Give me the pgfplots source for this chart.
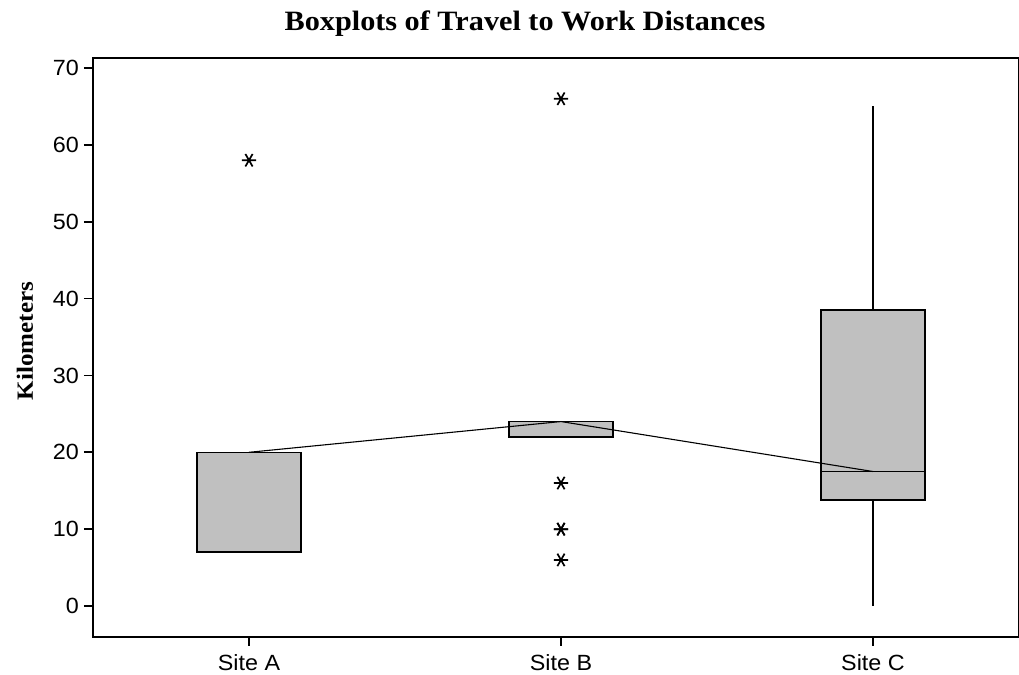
\documentclass[border=0pt]{standalone}
\usepackage{fontspec}
\setmainfont{Liberation Sans}
\newfontfamily\tickfont[FakeStretch=1.06]{Liberation Sans}
\newfontfamily\timesfont[FakeStretch=1.08]{Liberation Serif}
\usepackage{pgfplots}
\pgfplotsset{compat=1.18}
\usepgfplotslibrary{statistics}
\definecolor{boxgray}{RGB}{192,192,192}
\begin{document}
\begin{tikzpicture}
\begin{axis}[
  at={(46.5pt,19pt)}, anchor=south west,
  scale only axis, width=463pt, height=289.5pt,
  xmin=-0.5, xmax=2.468, ymin=-4.03, ymax=71.3,
  xtick={0,1,2}, xticklabels={Site A,Site B,Site C},
  ytick={0,10,...,70},
  tick align=outside, tick pos=left,
  major tick length=4.5pt,
  axis line style={line width=0.8pt},
  every tick/.style={black, line width=0.8pt},
  tick label style={font=\tickfont\fontsize{11}{13}\selectfont},
  yticklabel style={xshift=1pt},
  xticklabel style={yshift=-0.5pt},
  /pgf/number format/assume math mode=true,
  boxplot/draw direction=y,
  boxplot/box extend=0.333,
  boxplot/whisker extend=0,
  clip=false,
]
\addplot[boxplot prepared={draw position=0, lower whisker=7, lower quartile=7, median=20, upper quartile=20, upper whisker=20},
  draw=black, fill=boxgray, line width=0.75pt, mark=asterisk, mark size=3.6pt, mark options={black, fill=none, line width=0.85pt, rotate=90}]
  coordinates {(0,58)};
\addplot[boxplot prepared={draw position=1, lower whisker=22, lower quartile=22, median=24, upper quartile=24, upper whisker=24},
  draw=black, fill=boxgray, line width=0.75pt, mark=asterisk, mark size=3.6pt, mark options={black, fill=none, line width=0.85pt, rotate=90}]
  coordinates {(1,66) (1,16) (1,10) (1,10) (1,6)};
\addplot[boxplot prepared={draw position=2, lower whisker=0, lower quartile=13.8, median=17.5, upper quartile=38.5, upper whisker=65},
  draw=black, fill=boxgray, line width=0.75pt]
  coordinates {};
\addplot[black, line width=0.55pt, mark=none] coordinates {(0,20) (1,24) (2,17.5)};
\end{axis}
\node[anchor=base, font=\timesfont\bfseries\fontsize{14}{17}\selectfont] at (262.5pt,322pt) {Boxplots of Travel to Work Distances};
\node[rotate=90, anchor=base, font=\timesfont\bfseries\fontsize{11.6}{14}\selectfont] at (16.5pt,167pt) {Kilometers};
\pgfresetboundingbox
\path[use as bounding box] (0pt,0pt) rectangle (509.5pt,337.5pt);
\end{tikzpicture}
\end{document}
